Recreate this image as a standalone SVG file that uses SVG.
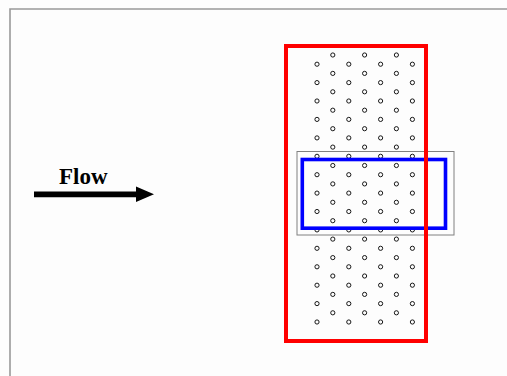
<svg xmlns="http://www.w3.org/2000/svg" width="507" height="376" viewBox="0 0 507 376">
  <style>
    .pin { fill: none; stroke: #000; stroke-width: 0.9; }
    .label { font-family: "Liberation Serif", "Times New Roman", serif; font-weight: bold; font-size: 23px; fill: #000; }
  </style>
  <defs>
    <circle id="c" r="2.1" class="pin"/>
  </defs>
  <rect x="0" y="0" width="507" height="376" fill="#fdfdfd"/>
  <!-- frame -->
  <path d="M10 376 V9 H507" fill="none" stroke="#999" stroke-width="1.6"/>

  <!-- flow direction -->
  <g id="flow">
    <text class="label" x="59" y="183.5">Flow</text>
    <path d="M34 191.5 H136 V186.5 L154 194.3 L136 202 V197.2 H34 Z" fill="#000"/>
  </g>

  <!-- staggered pin array -->
  <g id="pins">
    <g id="r0"><use href="#c" x="332.8" y="55"/><use href="#c" x="364.6" y="55"/><use href="#c" x="396.4" y="55"/></g>
    <g id="r1"><use href="#c" x="317" y="64.2"/><use href="#c" x="348.8" y="64.2"/><use href="#c" x="380.6" y="64.2"/><use href="#c" x="412.4" y="64.2"/></g>
    <g id="r2"><use href="#c" x="332.8" y="73.4"/><use href="#c" x="364.6" y="73.4"/><use href="#c" x="396.4" y="73.4"/></g>
    <g id="r3"><use href="#c" x="317" y="82.6"/><use href="#c" x="348.8" y="82.6"/><use href="#c" x="380.6" y="82.6"/><use href="#c" x="412.4" y="82.6"/></g>
    <g id="r4"><use href="#c" x="332.8" y="91.8"/><use href="#c" x="364.6" y="91.8"/><use href="#c" x="396.4" y="91.8"/></g>
    <g id="r5"><use href="#c" x="317" y="101"/><use href="#c" x="348.8" y="101"/><use href="#c" x="380.6" y="101"/><use href="#c" x="412.4" y="101"/></g>
    <g id="r6"><use href="#c" x="332.8" y="110.2"/><use href="#c" x="364.6" y="110.2"/><use href="#c" x="396.4" y="110.2"/></g>
    <g id="r7"><use href="#c" x="317" y="119.4"/><use href="#c" x="348.8" y="119.4"/><use href="#c" x="380.6" y="119.4"/><use href="#c" x="412.4" y="119.4"/></g>
    <g id="r8"><use href="#c" x="332.8" y="128.7"/><use href="#c" x="364.6" y="128.7"/><use href="#c" x="396.4" y="128.7"/></g>
    <g id="r9"><use href="#c" x="317" y="137.9"/><use href="#c" x="348.8" y="137.9"/><use href="#c" x="380.6" y="137.9"/><use href="#c" x="412.4" y="137.9"/></g>
    <g id="r10"><use href="#c" x="332.8" y="147.1"/><use href="#c" x="364.6" y="147.1"/><use href="#c" x="396.4" y="147.1"/></g>
    <g id="r11"><use href="#c" x="317" y="156.3"/><use href="#c" x="348.8" y="156.3"/><use href="#c" x="380.6" y="156.3"/><use href="#c" x="412.4" y="156.3"/></g>
    <g id="r12"><use href="#c" x="332.8" y="165.5"/><use href="#c" x="364.6" y="165.5"/><use href="#c" x="396.4" y="165.5"/></g>
    <g id="r13"><use href="#c" x="317" y="174.7"/><use href="#c" x="348.8" y="174.7"/><use href="#c" x="380.6" y="174.7"/><use href="#c" x="412.4" y="174.7"/></g>
    <g id="r14"><use href="#c" x="332.8" y="183.9"/><use href="#c" x="364.6" y="183.9"/><use href="#c" x="396.4" y="183.9"/></g>
    <g id="r15"><use href="#c" x="317" y="193.1"/><use href="#c" x="348.8" y="193.1"/><use href="#c" x="380.6" y="193.1"/><use href="#c" x="412.4" y="193.1"/></g>
    <g id="r16"><use href="#c" x="332.8" y="202.3"/><use href="#c" x="364.6" y="202.3"/><use href="#c" x="396.4" y="202.3"/></g>
    <g id="r17"><use href="#c" x="317" y="211.5"/><use href="#c" x="348.8" y="211.5"/><use href="#c" x="380.6" y="211.5"/><use href="#c" x="412.4" y="211.5"/></g>
    <g id="r18"><use href="#c" x="332.8" y="220.7"/><use href="#c" x="364.6" y="220.7"/><use href="#c" x="396.4" y="220.7"/></g>
    <g id="r19"><use href="#c" x="317" y="229.9"/><use href="#c" x="348.8" y="229.9"/><use href="#c" x="380.6" y="229.9"/><use href="#c" x="412.4" y="229.9"/></g>
    <g id="r20"><use href="#c" x="332.8" y="239.1"/><use href="#c" x="364.6" y="239.1"/><use href="#c" x="396.4" y="239.1"/></g>
    <g id="r21"><use href="#c" x="317" y="248.3"/><use href="#c" x="348.8" y="248.3"/><use href="#c" x="380.6" y="248.3"/><use href="#c" x="412.4" y="248.3"/></g>
    <g id="r22"><use href="#c" x="332.8" y="257.6"/><use href="#c" x="364.6" y="257.6"/><use href="#c" x="396.4" y="257.6"/></g>
    <g id="r23"><use href="#c" x="317" y="266.8"/><use href="#c" x="348.8" y="266.8"/><use href="#c" x="380.6" y="266.8"/><use href="#c" x="412.4" y="266.8"/></g>
    <g id="r24"><use href="#c" x="332.8" y="276"/><use href="#c" x="364.6" y="276"/><use href="#c" x="396.4" y="276"/></g>
    <g id="r25"><use href="#c" x="317" y="285.2"/><use href="#c" x="348.8" y="285.2"/><use href="#c" x="380.6" y="285.2"/><use href="#c" x="412.4" y="285.2"/></g>
    <g id="r26"><use href="#c" x="332.8" y="294.4"/><use href="#c" x="364.6" y="294.4"/><use href="#c" x="396.4" y="294.4"/></g>
    <g id="r27"><use href="#c" x="317" y="303.6"/><use href="#c" x="348.8" y="303.6"/><use href="#c" x="380.6" y="303.6"/><use href="#c" x="412.4" y="303.6"/></g>
    <g id="r28"><use href="#c" x="332.8" y="312.8"/><use href="#c" x="364.6" y="312.8"/><use href="#c" x="396.4" y="312.8"/></g>
    <g id="r29"><use href="#c" x="317" y="322"/><use href="#c" x="348.8" y="322"/><use href="#c" x="380.6" y="322"/><use href="#c" x="412.4" y="322"/></g>
  </g>

  <!-- sub-domain outlines -->
  <g id="outer-box">
    <rect x="297" y="151.5" width="157" height="83.5" fill="none" stroke="#808080" stroke-width="1"/>
  </g>
  <g id="blue-box">
    <rect x="302.3" y="159.5" width="143.2" height="68.7" fill="none" stroke="#0000ff" stroke-width="3.6"/>
  </g>
  <g id="red-box">
    <rect x="286" y="46" width="140" height="295" fill="none" stroke="#ff0000" stroke-width="4"/>
  </g>
</svg>
